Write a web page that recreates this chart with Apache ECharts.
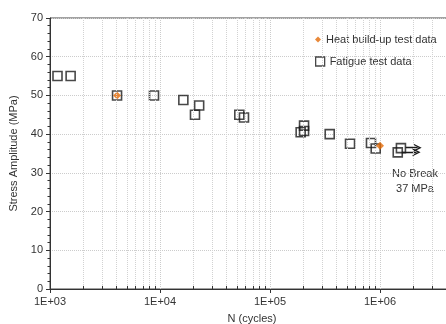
<!DOCTYPE html>
<html><head><meta charset="utf-8">
<script src="https://cdn.jsdelivr.net/npm/echarts@6/dist/echarts.min.js"></script>
<style>html,body{margin:0;padding:0;background:#fff}#c{width:446px;height:324px}</style>
</head><body><div id="c"></div>
<script>
// Fatigue test data (N cycles, stress amplitude MPa)
const fatigueN = [1170, 1540, 4070, 8820, 16300, 20800, 22700, 52600, 58000, 190000, 204000, 204000, 349000, 534000, 828000, 914000, 1450000, 1550000];
const fatigueS = [55, 55, 50, 50, 48.8, 45.0, 47.4, 45.0, 44.3, 40.5, 40.8, 42.2, 40.0, 37.5, 37.7, 36.3, 35.3, 36.4];
// Heat build-up test data
const heatN = [4070, 1000000];
const heatS = [50, 37];
// No-break run-out arrows
const arrowStartN = [1580000, 1710000];
const arrowEndN = [2150000, 2200000];
const arrowS = [35.3, 36.5];
// axes
const xMin = 1000, xMax = 10000000;
const yMin = 0, yMax = 70, yStep = 10;
const minorMult = [2, 3, 4, 5, 6, 7, 8, 9];
const decades = [1000, 10000, 100000, 1000000];
const noteLines = ['No Break', '37 MPa'];

const minorN = [];
decades.forEach(d => minorMult.forEach(m => minorN.push(d * m)));

const FONT = "'Liberation Sans', Arial, sans-serif";
const TXT = '#333';

const chart = echarts.init(document.getElementById('c'), null, {renderer: 'canvas'});
chart.setOption({
  animation: false,
  backgroundColor: '#fff',
  textStyle: {fontFamily: FONT},
  grid: {left: 50, top: 18, width: 440, bottom: 35, outerBoundsMode: 'none', containLabel: false,
    show: true, borderColor: '#444', borderWidth: 1, backgroundColor: 'transparent'},
  legend: [{
    data: ['Heat build-up test data'], orient: 'vertical', left: 315, top: 34,
    itemWidth: 6, itemHeight: 6, padding: 0,
    textStyle: {fontSize: 11, color: TXT, fontFamily: FONT}
  }, {
    data: ['Fatigue test data'], orient: 'vertical', left: 315, top: 56,
    itemWidth: 9, itemHeight: 9, padding: 0,
    itemStyle: {color: 'rgba(255,255,255,0)', borderColor: '#1a1a1a', borderWidth: 1.3},
    textStyle: {fontSize: 11, color: TXT, fontFamily: FONT}
  }],
  xAxis: {
    type: 'log', logBase: 10, min: xMin, max: xMax,
    name: 'N (cycles)', nameLocation: 'middle', nameGap: 24,
    nameTextStyle: {fontSize: 11, color: TXT, padding: [0, 36, 0, 0]},
    axisLine: {lineStyle: {color: '#333', width: 1}},
    axisTick: {show: true, length: 4, lineStyle: {color: '#333'}},
    axisLabel: {fontSize: 11, color: TXT, margin: 7,
      formatter: v => '1E+' + String(Math.round(Math.log10(v))).padStart(2, '0')},
    splitLine: {show: true, lineStyle: {color: '#cccccc', type: 'dotted'}}
  },
  yAxis: {
    type: 'value', min: yMin, max: yMax, interval: yStep,
    name: 'Stress Amplitude (MPa)', nameLocation: 'middle', nameGap: 27,
    nameTextStyle: {fontSize: 11, color: TXT},
    axisLine: {show: true, lineStyle: {color: '#333', width: 1}},
    axisTick: {show: true, length: 4, lineStyle: {color: '#333'}},
    minorTick: {show: true, splitNumber: 5, length: 2.5, lineStyle: {color: '#333'}},
    axisLabel: {fontSize: 11, color: TXT, margin: 7},
    splitLine: {show: true, lineStyle: {color: '#cccccc', type: 'dotted'}}
  },
  graphic: [{
    type: 'text', x: 415, y: 166,
    style: {text: noteLines.join('\n'), fontSize: 11, fontFamily: FONT, fill: TXT, textAlign: 'center', lineHeight: 15},
  }],
  series: [{
    name: 'grid-minor', type: 'scatter', data: [], silent: true,
    markLine: {
      silent: true, symbol: ['none', 'none'], label: {show: false},
      lineStyle: {color: '#d2d2d2', type: 'dotted', width: 1},
      data: minorN.map(v => ({xAxis: v}))
    }
  }, {
    name: 'tick-minor', type: 'scatter', data: [], silent: true,
    markLine: {
      silent: true, symbol: ['none', 'none'], label: {show: false},
      lineStyle: {color: '#333', type: 'solid', width: 1},
      data: minorN.map(v => [{coord: [v, yMin]}, {coord: [v, yMin + 0.8]}])
    }
  }, {
    name: 'Fatigue test data', type: 'scatter', symbol: 'rect', symbolSize: 9,
    itemStyle: {color: 'rgba(255,255,255,0)', borderColor: '#1a1a1a', borderWidth: 1.6},
    data: fatigueN.map((n, i) => [n, fatigueS[i]]), z: 3
  }, {
    name: 'Heat build-up test data', type: 'scatter', symbol: 'diamond', symbolSize: 8,
    itemStyle: {color: '#e36c09'},
    data: heatN.map((n, i) => [n, heatS[i]]), z: 4
  }, {
    name: 'no-break', type: 'lines', coordinateSystem: 'cartesian2d', silent: true,
    symbol: ['none', 'path://M0,10 L5,0 L10,10 L8.3,10 L5,3.6 L1.7,10 Z'], symbolSize: 8,
    lineStyle: {color: '#1a1a1a', width: 1.3, opacity: 1},
    data: arrowStartN.map((n, i) => ({coords: [[n, arrowS[i]], [arrowEndN[i], arrowS[i]]]})), z: 3
  }]
});
</script></body></html>
